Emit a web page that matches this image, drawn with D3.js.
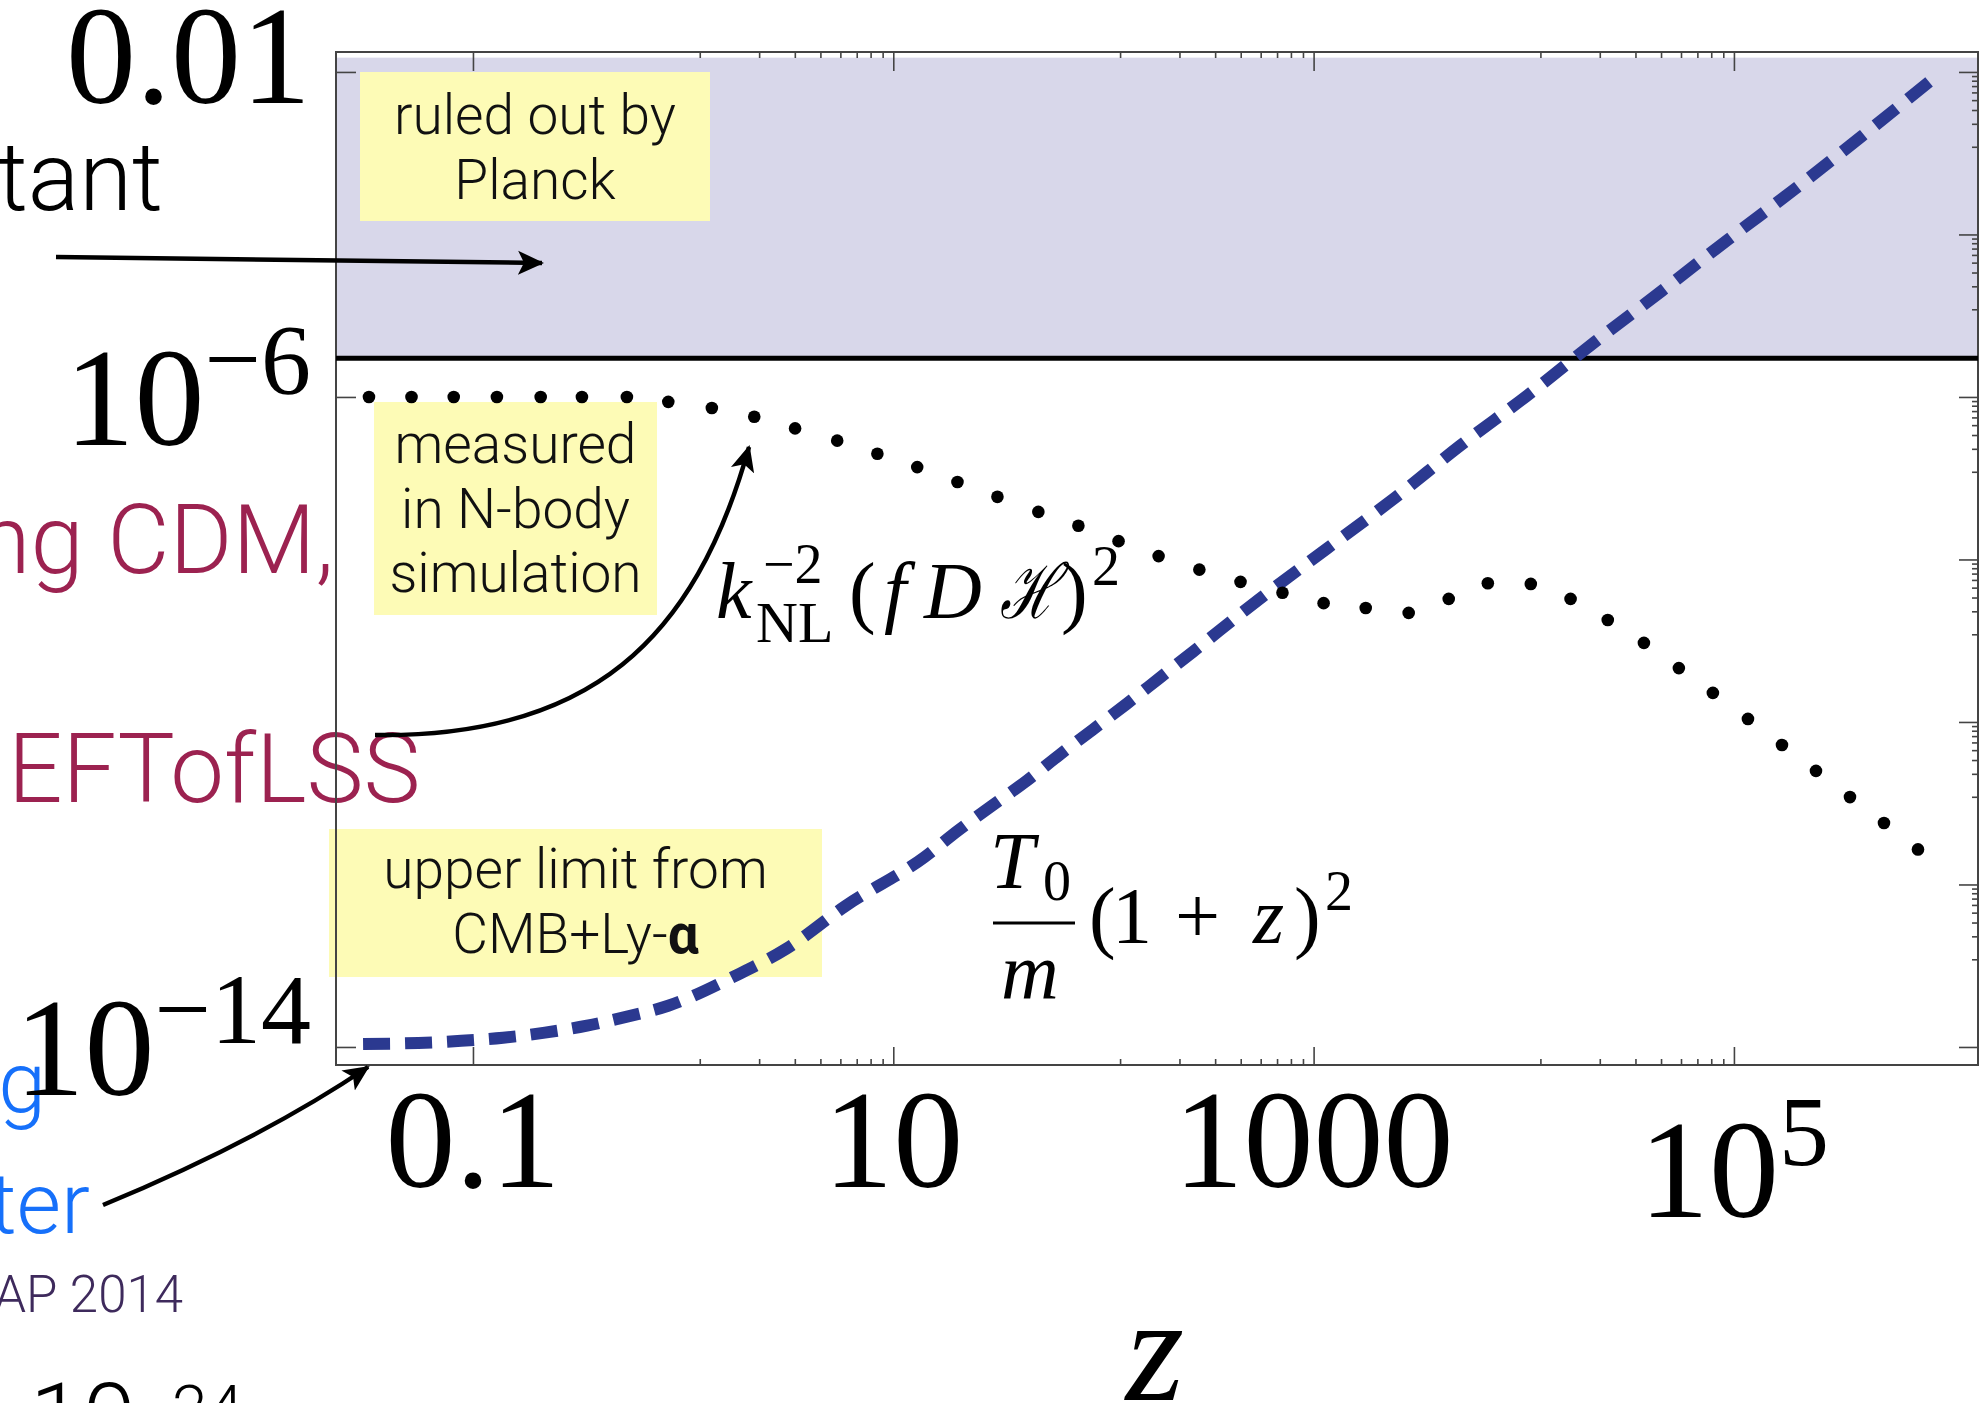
<!DOCTYPE html>
<html>
<head>
<meta charset="utf-8">
<script src="https://cdn.jsdelivr.net/npm/d3@7"></script>
<style>
  body { margin: 0; background: #fff; }
  svg { display: block; }
</style>
</head>
<body>
<div id="root"></div>
<script>
// axis ranges (both log)
const xDomain = [0.0223, 1.45e6];
const yDomain = [6.0e-15, 0.0176];

const xMajorTicks = [0.1, 10, 1000, 1e5];
const xMinorBases = [10, 1000, 1e5];
const yMajorTicks = [1e-2, 1e-4, 1e-6, 1e-8, 1e-10, 1e-12, 1e-14];
const yMinorBases = [1e-2, 1e-4, 1e-6, 1e-8, 1e-10, 1e-12];
const minorFactors = [0.12, 0.23, 0.34, 0.45, 0.56, 0.67, 0.78, 0.89];

const xLabels = [
    { v: 0.1, base: "0.1" },
    { v: 10, base: "10" },
    { v: 1000, base: "1000" },
    { v: 1e5, base: "10", sup: "5" }
];
const yLabels = [
    { v: 1e-2, base: "0.01" },
    { v: 1e-6, base: "10", sup: "\u22126" },
    { v: 1e-14, base: "10", sup: "\u221214" }
];

// region excluded by Planck
const planckBand = [3.0e-6, 1.5e-2];

// k_NL^-2 (f D H)^2, measured in N-body (dotted)
const nbodyZ = [0.032, 0.051, 0.081, 0.13, 0.21, 0.33, 0.54, 0.85, 1.37, 2.18,
    3.41, 5.41, 8.4, 13.0, 20.2, 31.3, 49, 76, 118, 183,
    286, 449, 711, 1116, 1770, 2834, 4394, 6745, 10800, 16700,
    25100, 37300, 54700, 79400, 116600, 169300, 245700, 356600, 517600, 751200];
const nbodyV = [1.0e-6, 1.0e-6, 1.0e-6, 1.0e-6, 1.0e-6, 1.0e-6, 1.0e-6, 8.7e-7, 7.3e-7, 5.7e-7,
    4.1e-7, 2.9e-7, 2.0e-7, 1.37e-7, 9.0e-8, 5.9e-8, 3.85e-8, 2.6e-8, 1.68e-8, 1.1e-8,
    7.5e-9, 5.3e-9, 3.9e-9, 2.9e-9, 2.53e-9, 2.2e-9, 3.27e-9, 5.1e-9, 5.0e-9, 3.27e-9,
    1.8e-9, 9.4e-10, 4.6e-10, 2.28e-10, 1.09e-10, 5.2e-11, 2.5e-11, 1.19e-11, 5.7e-12, 2.7e-12];

// T0/m (1+z)^2 (dashed)
const thermalZ = [0.030, 0.055, 0.088, 0.139, 0.220, 0.349, 0.541, 0.849, 1.77, 3.09,
    5.9, 14.1, 20.2, 29.3, 43, 61.7, 88.6, 129, 185, 266,
    553, 1153, 2432, 4955, 10330, 21770, 45400, 94600, 195000, 407000, 955000];
const thermalV = [1.09e-14, 1.12e-14, 1.19e-14, 1.30e-14, 1.50e-14, 1.83e-14, 2.36e-14, 3.22e-14, 7.5e-14, 1.61e-13,
    5.4e-13, 2.18e-12, 4.55e-12, 9.2e-12, 1.88e-11, 3.93e-11, 7.98e-11, 1.67e-10, 3.48e-10, 7.28e-10,
    3.27e-9, 1.35e-8, 5.71e-8, 2.49e-7, 1.03e-6, 4.75e-6, 2.02e-5, 8.8e-5, 3.63e-4, 1.63e-3, 9.7e-3];

const SERIF = "'Liberation Serif', 'Times New Roman', serif";
const SANS = "'Helvetica Neue', Roboto, 'Open Sans', 'Liberation Sans', sans-serif";

class ScaleChart {
    constructor(root) {
        this.root = root;
        this.size = { width: 1982, height: 1403 };
        this.margin = { top: 52, right: 4, bottom: 338, left: 336 };

        this.initSvg();
        this.initScales();
        this.render();
    }

    initSvg() {
        this.svg = this.root.append("svg")
            .attr("width", this.size.width)
            .attr("height", this.size.height);

        const defs = this.svg.append("defs");
        defs.append("marker")
            .attr("id", "head")
            .attr("viewBox", "0 0 26 26")
            .attr("refX", 24)
            .attr("refY", 13)
            .attr("markerWidth", 26)
            .attr("markerHeight", 26)
            .attr("markerUnits", "userSpaceOnUse")
            .attr("orient", "auto")
            .append("path")
            .attr("d", "M0,1 L26,13 L0,25 L6,13 Z")
            .attr("fill", "#000");

        this.slideLayer = this.svg.append("g");
        this.bandLayer = this.svg.append("g");
        this.boxLayer = this.svg.append("g");
        this.axisLayer = this.svg.append("g");
        this.dataLayer = this.svg.append("g");
        this.textLayer = this.svg.append("g");
    }

    initScales() {
        const m = this.margin;
        this.x = d3.scaleLog().domain(xDomain).range([m.left, this.size.width - m.right]);
        this.y = d3.scaleLog().domain(yDomain).range([this.size.height - m.bottom, m.top]);
    }

    // pieces of the slide that sit behind the plot
    drawSlide() {
        const g = this.slideLayer.style("font-family", SANS).style("font-weight", 300);

        g.append("text").attr("x", 163).attr("y", 210).attr("text-anchor", "end")
            .style("font-size", "96px").attr("fill", "#000").text("tant");

        g.append("text").attr("x", 334).attr("y", 573).attr("text-anchor", "end")
            .style("font-size", "96px").attr("fill", "#9c2250").text("ng CDM,");

        g.append("text").attr("x", 8).attr("y", 802)
            .style("font-size", "96px").attr("fill", "#9c2250").text("EFTofLSS");

        g.append("text").attr("x", 46).attr("y", 1112).attr("text-anchor", "end")
            .style("font-size", "86px").attr("fill", "#1670fa").text("g");

        g.append("text").attr("x", 90).attr("y", 1233).attr("text-anchor", "end")
            .style("font-size", "86px").attr("fill", "#1670fa").text("ter");

        g.append("text").attr("x", 183).attr("y", 1312).attr("text-anchor", "end")
            .style("font-size", "51px").attr("fill", "#3e2a5c").text("AP 2014");

        const cut = g.append("text").attr("x", 30).attr("y", 1450)
            .style("font-size", "95px").attr("fill", "#000");
        cut.append("tspan").text("10");
        cut.append("tspan").attr("dy", -19).style("font-size", "64px").text("\u221224");
    }

    drawBand() {
        const x0 = this.x.range()[0], x1 = this.x.range()[1];
        this.bandLayer.append("rect")
            .attr("x", x0)
            .attr("width", x1 - x0)
            .attr("y", this.y(planckBand[1]))
            .attr("height", this.y(planckBand[0]) - this.y(planckBand[1]))
            .attr("fill", "#d8d7ea");
    }

    drawBoxes() {
        const boxes = [
            { x0: 360, y0: 72, x1: 710, y1: 221, lines: ["ruled out by", "Planck"], first: 134 },
            { x0: 374, y0: 402, x1: 657, y1: 615, lines: ["measured", "in N-body", "simulation"], first: 463 },
            { x0: 329, y0: 829, x1: 822, y1: 977, lines: ["upper limit from", "CMB+Ly-"], first: 888 }
        ];
        this.boxes = boxes;

        this.boxLayer.selectAll("rect")
            .data(boxes)
            .enter()
            .append("rect")
            .attr("x", d => d.x0)
            .attr("y", d => d.y0)
            .attr("width", d => d.x1 - d.x0)
            .attr("height", d => d.y1 - d.y0)
            .attr("fill", "#fdfbb6");
    }

    drawBoxText() {
        const g = this.textLayer.append("g")
            .style("font-family", SANS)
            .style("font-weight", 300)
            .style("font-size", "55px")
            .attr("fill", "#111")
            .attr("text-anchor", "middle");

        this.boxes.forEach((b, bi) => {
            b.lines.forEach((line, i) => {
                const t = g.append("text")
                    .attr("x", (b.x0 + b.x1) / 2)
                    .attr("y", b.first + i * 64.5)
                    .text(line);
                if (bi === 2 && i === 1) {
                    t.append("tspan").style("font-weight", 700).text("\u03b1");
                }
            });
        });
    }

    drawAxes() {
        const m = this.margin;
        const W = this.size.width, H = this.size.height;
        const blank = () => "";
        const xMinor = xMinorBases.flatMap(t => minorFactors.map(f => t * f));
        const yMinor = yMinorBases.flatMap(t => minorFactors.map(f => t * f));
        const g = this.axisLayer;

        const place = (axis, tx, ty) => {
            g.append("g")
                .attr("transform", `translate(${tx},${ty})`)
                .attr("color", "#444")
                .call(axis)
                .call(s => s.select(".domain").remove())
                .call(s => s.selectAll(".tick line").attr("stroke-width", 1.6));
        };

        place(d3.axisBottom(this.x).tickValues(xMajorTicks).tickSize(-18).tickFormat(blank), 0, H - m.bottom);
        place(d3.axisBottom(this.x).tickValues(xMinor).tickSize(-6).tickFormat(blank), 0, H - m.bottom);
        place(d3.axisTop(this.x).tickValues(xMajorTicks).tickSize(-19).tickFormat(blank), 0, m.top);
        place(d3.axisTop(this.x).tickValues(xMinor).tickSize(-6).tickFormat(blank), 0, m.top);
        place(d3.axisRight(this.y).tickValues(yMajorTicks).tickSize(-19).tickFormat(blank), W - m.right, 0);
        place(d3.axisRight(this.y).tickValues(yMinor).tickSize(-6).tickFormat(blank), W - m.right, 0);
        place(d3.axisLeft(this.y).tickValues(yLabels.map(d => d.v)).tickSize(-20).tickFormat(blank), m.left, 0);

        g.append("rect")
            .attr("x", m.left)
            .attr("y", m.top)
            .attr("width", W - m.right - m.left)
            .attr("height", H - m.bottom - m.top)
            .attr("fill", "none")
            .attr("stroke", "#444")
            .attr("stroke-width", 2);
    }

    drawCurves() {
        const thermal = thermalZ.map((z, i) => [z, thermalV[i]]);
        const nbody = nbodyZ.map((z, i) => [z, nbodyV[i]]);

        // Planck upper limit
        this.dataLayer.append("line")
            .attr("x1", this.x.range()[0])
            .attr("x2", this.x.range()[1])
            .attr("y1", this.y(planckBand[0]))
            .attr("y2", this.y(planckBand[0]))
            .attr("stroke", "#000")
            .attr("stroke-width", 5);

        const line = d3.line()
            .x(d => this.x(d[0]))
            .y(d => this.y(d[1]))
            .curve(d3.curveMonotoneX);

        this.dataLayer.append("path")
            .datum(thermal)
            .attr("d", line)
            .attr("fill", "none")
            .attr("stroke", "#2b3990")
            .attr("stroke-width", 12)
            .attr("stroke-dasharray", "27,15");

        this.dataLayer.selectAll("circle")
            .data(nbody)
            .enter()
            .append("circle")
            .attr("cx", d => this.x(d[0]))
            .attr("cy", d => this.y(d[1]))
            .attr("r", 6.3)
            .attr("fill", "#000");
    }

    drawTickLabels() {
        const g = this.textLayer.append("g")
            .style("font-family", SERIF)
            .style("font-size", "140px")
            .attr("fill", "#000");
        const bottom = this.size.height - this.margin.bottom;

        xLabels.forEach(d => {
            const t = g.append("text")
                .attr("x", this.x(d.v))
                .attr("y", bottom + (d.sup ? 152 : 122))
                .attr("text-anchor", "middle");
            t.append("tspan").text(d.base);
            if (d.sup) t.append("tspan").attr("dy", -52).style("font-size", "100px").text(d.sup);
        });

        yLabels.forEach(d => {
            const t = g.append("text")
                .attr("x", 311)
                .attr("y", this.y(d.v) + (d.sup ? 48 : 31))
                .attr("text-anchor", "end");
            t.append("tspan").text(d.base);
            if (d.sup) t.append("tspan").attr("dy", -52).style("font-size", "100px").text(d.sup);
        });

        g.append("text")
            .attr("x", 1155)
            .attr("y", 1400)
            .attr("text-anchor", "middle")
            .style("font-size", "150px")
            .style("font-style", "italic")
            .text("z");
    }

    drawFormulas() {
        const g = this.textLayer.append("g")
            .style("font-family", SERIF)
            .attr("fill", "#000");

        // [x, baseline, size, italic, text, width]
        const pieces = [
            [716, 618, 80, true, "k"],
            [756, 642, 58, false, "NL"],
            [763, 583, 56, false, "\u22122"],
            [849, 618, 80, false, "("],
            [884, 618, 80, true, "f"],
            [924, 618, 80, true, "D"],
            [1000, 618, 76, true, "\u210b", 58],
            [1061, 618, 80, false, ")"],
            [1092, 585, 56, false, "2"],

            [990, 888, 80, true, "T"],
            [1043, 900, 56, false, "0"],
            [1001, 998, 80, true, "m"],
            [1089, 943, 80, false, "("],
            [1112, 943, 80, false, "1"],
            [1175, 943, 80, false, "+"],
            [1253, 943, 80, true, "z"],
            [1294, 943, 80, false, ")"],
            [1325, 910, 56, false, "2"]
        ];

        pieces.forEach(p => {
            const t = g.append("text")
                .attr("x", p[0])
                .attr("y", p[1])
                .style("font-size", p[2] + "px")
                .style("font-style", p[3] ? "italic" : "normal")
                .text(p[4]);
            if (p[5]) t.attr("textLength", p[5]).attr("lengthAdjust", "spacingAndGlyphs");
        });

        g.append("line")
            .attr("x1", 993).attr("x2", 1075)
            .attr("y1", 923).attr("y2", 923)
            .attr("stroke", "#000")
            .attr("stroke-width", 3);
    }

    drawArrows() {
        const paths = [
            "M56,257 L542,263",
            "M375,735 C590,738 695,640 749,447",
            "M103,1205 Q260,1140 368,1067"
        ];
        this.textLayer.selectAll("path.arrow")
            .data(paths)
            .enter()
            .append("path")
            .attr("class", "arrow")
            .attr("d", d => d)
            .attr("fill", "none")
            .attr("stroke", "#000")
            .attr("stroke-width", 4.5)
            .attr("marker-end", "url(#head)");
    }

    render() {
        this.drawSlide();
        this.drawBand();
        this.drawBoxes();
        this.drawAxes();
        this.drawCurves();
        this.drawBoxText();
        this.drawFormulas();
        this.drawTickLabels();
        this.drawArrows();
    }
}

new ScaleChart(d3.select("#root"));
</script>
</body>
</html>
